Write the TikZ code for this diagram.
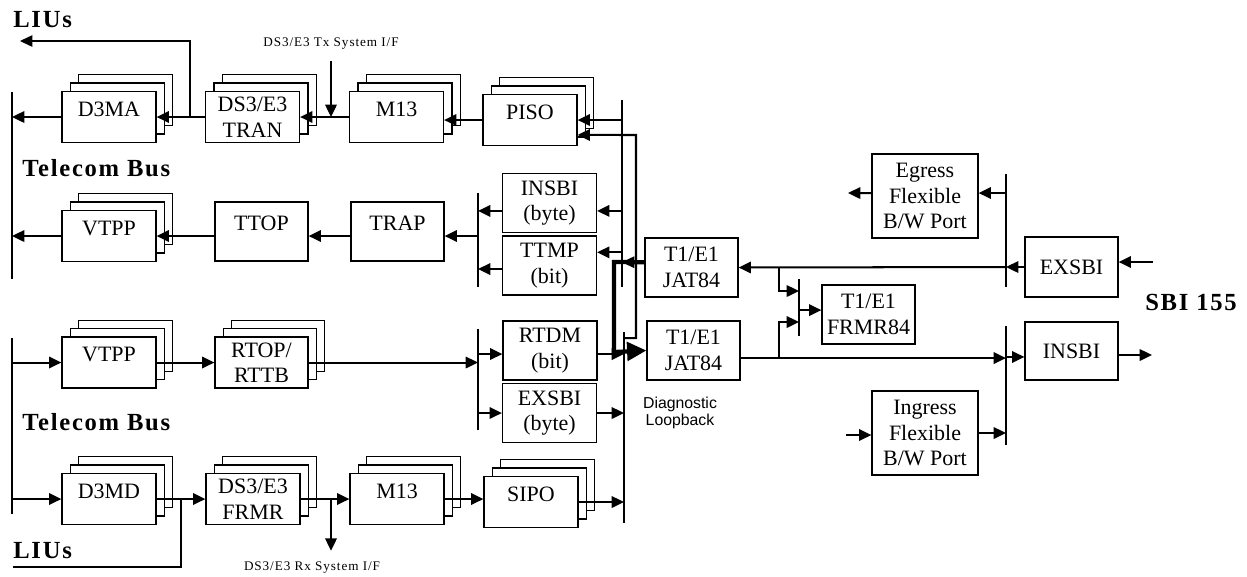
\documentclass[tikz,border=0pt]{standalone}
\usepackage{fontspec}
\setmainfont{Liberation Serif}
\newfontfamily\lblfont{Liberation Serif}[LetterSpace=7]
\newfontfamily\diagfont{Liberation Sans}
\usetikzlibrary{arrows.meta,shadows}

\newcommand{\bxfont}{\fontsize{12.5}{14.5}\selectfont}
\newcommand{\bigfont}{\lblfont\bfseries\fontsize{14}{16}\selectfont}
\newcommand{\ifont}{\lblfont\fontsize{7.5}{8.5}\selectfont}

\tikzset{
  blk/.style={draw, line width=0.7pt, fill=white, inner sep=0pt, align=center,
    font=\bxfont, minimum width=1.86cm, minimum height=1.18cm},
  stk/.style={blk, minimum width=1.88cm, minimum height=1.02cm,
    double copy shadow={shadow xshift=4.8pt, shadow yshift=4.8pt}},
  uptxt/.style={text height=9pt, text depth=10pt},
  port/.style={blk, minimum width=2.12cm, minimum height=1.68cm},
  lbl/.style={anchor=west, inner sep=0pt, font=\bigfont},
  arr/.style={-{Triangle[length=7pt,width=6.5pt]}, line width=1.15pt},
  fat/.style={-{Triangle[length=11pt,width=10.5pt]}, line width=2.4pt},
  bus/.style={line width=1.3pt},
  wire/.style={line width=0.6pt}
}

\begin{document}
\begin{tikzpicture}[x=0.02cm, y=-0.02cm]
\useasboundingbox (0,0) rectangle (1247,576);

% transmit stacks
\node[stk, uptxt] (d3ma) at (109,117) {D3MA};
\node[stk] (tran) at (252.5,117) {DS3/E3\\TRAN};
\node[stk, uptxt] (mtx) at (396.5,117) {M13};
\node[stk, uptxt] (piso) at (530,120) {PISO};

\node[stk, uptxt] (vtppt) at (109,236) {VTPP};
\node[blk, uptxt] (ttop) at (261.5,231.5) {TTOP};
\node[blk, uptxt] (trap) at (397.5,231.5) {TRAP};
\node[blk, minimum width=1.88cm] (insbib) at (549.5,203) {INSBI\\(byte)};
\node[blk, minimum width=1.88cm] (ttmp) at (549.5,265.5) {TTMP\\(bit)};

% receive stacks
\node[stk, uptxt] (vtppr) at (109,362.5) {VTPP};
\node[stk, minimum width=1.86cm] (rtop) at (261.5,362.5) {RTOP/\\RTTB};
\node[blk, minimum width=1.88cm] (rtdm) at (550,350.5) {RTDM\\(bit)};
\node[blk, minimum width=1.88cm] (exsbib) at (549.5,413) {EXSBI\\(byte)};

\node[stk, uptxt] (d3md) at (109,499) {D3MD};
\node[stk] (frmr) at (253,499) {DS3/E3\\FRMR};
\node[stk, uptxt] (mrx) at (397,499) {M13};
\node[stk, uptxt] (sipo) at (531,502) {SIPO};

% SBI side
\node[blk] (jatt) at (691.5,267.5) {T1/E1\\JAT84};
\node[blk] (jatb) at (693.5,350.5) {T1/E1\\JAT84};
\node[blk] (frmr84) at (868.5,314.5) {T1/E1\\FRMR84};
\node[port] (egress) at (925,196) {Egress\\Flexible\\B/W Port};
\node[port] (ingress) at (925,433) {Ingress\\Flexible\\B/W Port};
\node[blk, minimum height=1.2cm] (exsbi) at (1071.5,267) {EXSBI};
\node[blk, minimum height=1.16cm] (insbi) at (1071.5,351) {INSBI};

% labels
\node[lbl] (liust) at (13,20) {LIUs};
\node[lbl] (bust) at (22,168) {Telecom Bus};
\node[lbl] (busr) at (22,422) {Telecom Bus};
\node[lbl] (liusr) at (13,551) {LIUs};
\node[lbl] (sbi) at (1145,302) {SBI 155};
\node[font=\ifont] (txif) at (331,44) {DS3/E3 Tx System I/F};
\node[font=\ifont] (rxif) at (312,568) {DS3/E3 Rx System I/F};
\node[font=\diagfont\fontsize{9}{9.8}\selectfont, align=center] (diag) at (680,413) {Diagnostic\\Loopback};

% bus ends and taps
\coordinate (bL1) at (12,92);   \coordinate (bL2) at (12,279);
\coordinate (bL3) at (12,338);  \coordinate (bL4) at (12,514);
\coordinate (bA1) at (478,193); \coordinate (bA2) at (478,287);
\coordinate (bA3) at (478,329); \coordinate (bA4) at (478,430);
\coordinate (bM1) at (622,100); \coordinate (bM2) at (622,287);
\coordinate (bN1) at (624,332); \coordinate (bN2) at (624,523);
\coordinate (bF1) at (799,279); \coordinate (bF2) at (799,336);
\coordinate (bE1) at (1006,174); \coordinate (bE2) at (1006,287);
\coordinate (bE3) at (1006,326); \coordinate (bE4) at (1006,445);
\coordinate (liutap) at (190,117); \coordinate (liuout) at (20,41);
\coordinate (liutap2) at (181,499); \coordinate (liuin) at (13,567);
\coordinate (txtap) at (331,117); \coordinate (rxtap) at (331,499);
\coordinate (loopa) at (636,338); \coordinate (loopb) at (636,135);
\coordinate (fata) at (614,262); \coordinate (fatb) at (614,352);
\coordinate (jtap1) at (779,268); \coordinate (jtap2) at (779,358);
\coordinate (ftap1) at (799,291); \coordinate (ftap2) at (799,322);
\coordinate (sbiin) at (1153,262); \coordinate (sbiout) at (1152,355);
\coordinate (egout) at (848,193); \coordinate (ingin) at (846,435);

\draw[bus] (bL1) -- (bL2);
\draw[bus] (bL3) -- (bL4);
\draw[bus] (bA1) -- (bA2);
\draw[bus] (bA3) -- (bA4);
\draw[bus] (bM1) -- (bM2);
\draw[bus] (bN1) -- (bN2);
\draw[bus] (bF1) -- (bF2);
\draw[bus] (bE1) -- (bE2);
\draw[bus] (bE3) -- (bE4);

% transmit path
\draw[arr] (d3ma.west) -- (d3ma.west -| bL1);
\draw[arr] (tran.west) -- (d3ma.east);
\draw[arr, wire] (liutap) |- (liuout);
\draw[arr] (mtx.west) -- (tran.east);
\draw[arr] ([yshift=-3pt]txif.south) -- (txtap);
\draw[arr] (piso.west) -- (piso.west -| mtx.east);
\draw[arr] (piso.east -| bM1) -- (piso.east);
\draw[arr] (bN1 |- loopa) -- (loopa) -- (loopb) -- ([yshift=-8.5pt]piso.east);

\draw[arr] (vtppt.west) -- (vtppt.west -| bL1);
\draw[arr] (ttop.west |- vtppt) -- (vtppt.east);
\draw[arr] (trap.west |- vtppt) -- (ttop.east |- vtppt);
\draw[arr] (vtppt -| bA1) -- (trap.east |- vtppt);
\draw[arr] ([yshift=-4.5pt]insbib.west) -- ([yshift=-4.5pt]insbib.west -| bA1);
\draw[arr] ([yshift=-2pt]ttmp.west) -- ([yshift=-2pt]ttmp.west -| bA1);
\draw[arr] ([yshift=-4.5pt]insbib.east -| bM1) -- ([yshift=-4.5pt]insbib.east);
\draw[arr] ([yshift=7.5pt]ttmp.east -| bM1) -- ([yshift=7.5pt]ttmp.east);

% T1/E1 jitter attenuators and loopback
\draw[arr] ([yshift=3pt]jatt.west) -- ([yshift=3pt]jatt.west -| bM1);
\draw[fat] ([yshift=3pt]jatt.west) -- (fata) -- (fatb) -- (jatb.west);
\draw[arr] (exsbi.west) -- (exsbi.west -| bE1);
\draw[arr] (exsbi.west -| bE1) -- (jatt.east);
\draw[arr] (jtap1) |- (ftap1);
\draw[arr] (sbiin) -- (sbiin -| exsbi.east);
\draw[arr] ([yshift=1.7pt]egress.east -| bE1) -- ([yshift=1.7pt]egress.east);
\draw[arr] ([yshift=1.7pt]egress.west) -- (egout);
\draw[arr] ([yshift=2.5pt]frmr84.west -| bF1) -- ([yshift=2.5pt]frmr84.west);

% receive path
\draw[arr] (vtppr.west -| bL3) -- (vtppr.west);
\draw[arr] (vtppr.east) -- (rtop.west);
\draw[arr] (rtop.east) -- (rtop.east -| bA3);
\draw[arr] ([yshift=-2pt]rtdm.west -| bA3) -- ([yshift=-2pt]rtdm.west);
\draw[arr] (exsbib.west -| bA3) -- (exsbib.west);
\draw[arr] ([yshift=-2pt]rtdm.east) -- ([yshift=-2pt]rtdm.east -| bN1);
\draw[arr] (exsbib.east) -- (exsbib.east -| bN1);
\draw[arr] ([yshift=-4.3pt]jatb.east) -- ([yshift=-4.3pt]jatb.east -| bE3);
\draw[arr] (jtap2) |- (ftap2);
\draw[arr] ([yshift=-3.4pt]insbi.west -| bE3) -- ([yshift=-3.4pt]insbi.west);
\draw[arr] (insbi.east |- sbiout) -- (sbiout);
\draw[arr] (ingin) -- (ingin -| ingress.west);
\draw[arr] (ingress.east) -- (ingress.east -| bE3);

\draw[arr] (d3md.west -| bL3) -- (d3md.west);
\draw[arr] (d3md.east) -- (frmr.west);
\draw[wire] (liutap2) |- (liuin);
\draw[arr] (frmr.east) -- (mrx.west);
\draw[arr] (rxtap) -- ([yshift=3pt]rxtap |- rxif.north);
\draw[arr] (mrx.east) -- (mrx.east -| sipo.west);
\draw[arr] (sipo.east) -- (sipo.east -| bN1);
\end{tikzpicture}
\end{document}
